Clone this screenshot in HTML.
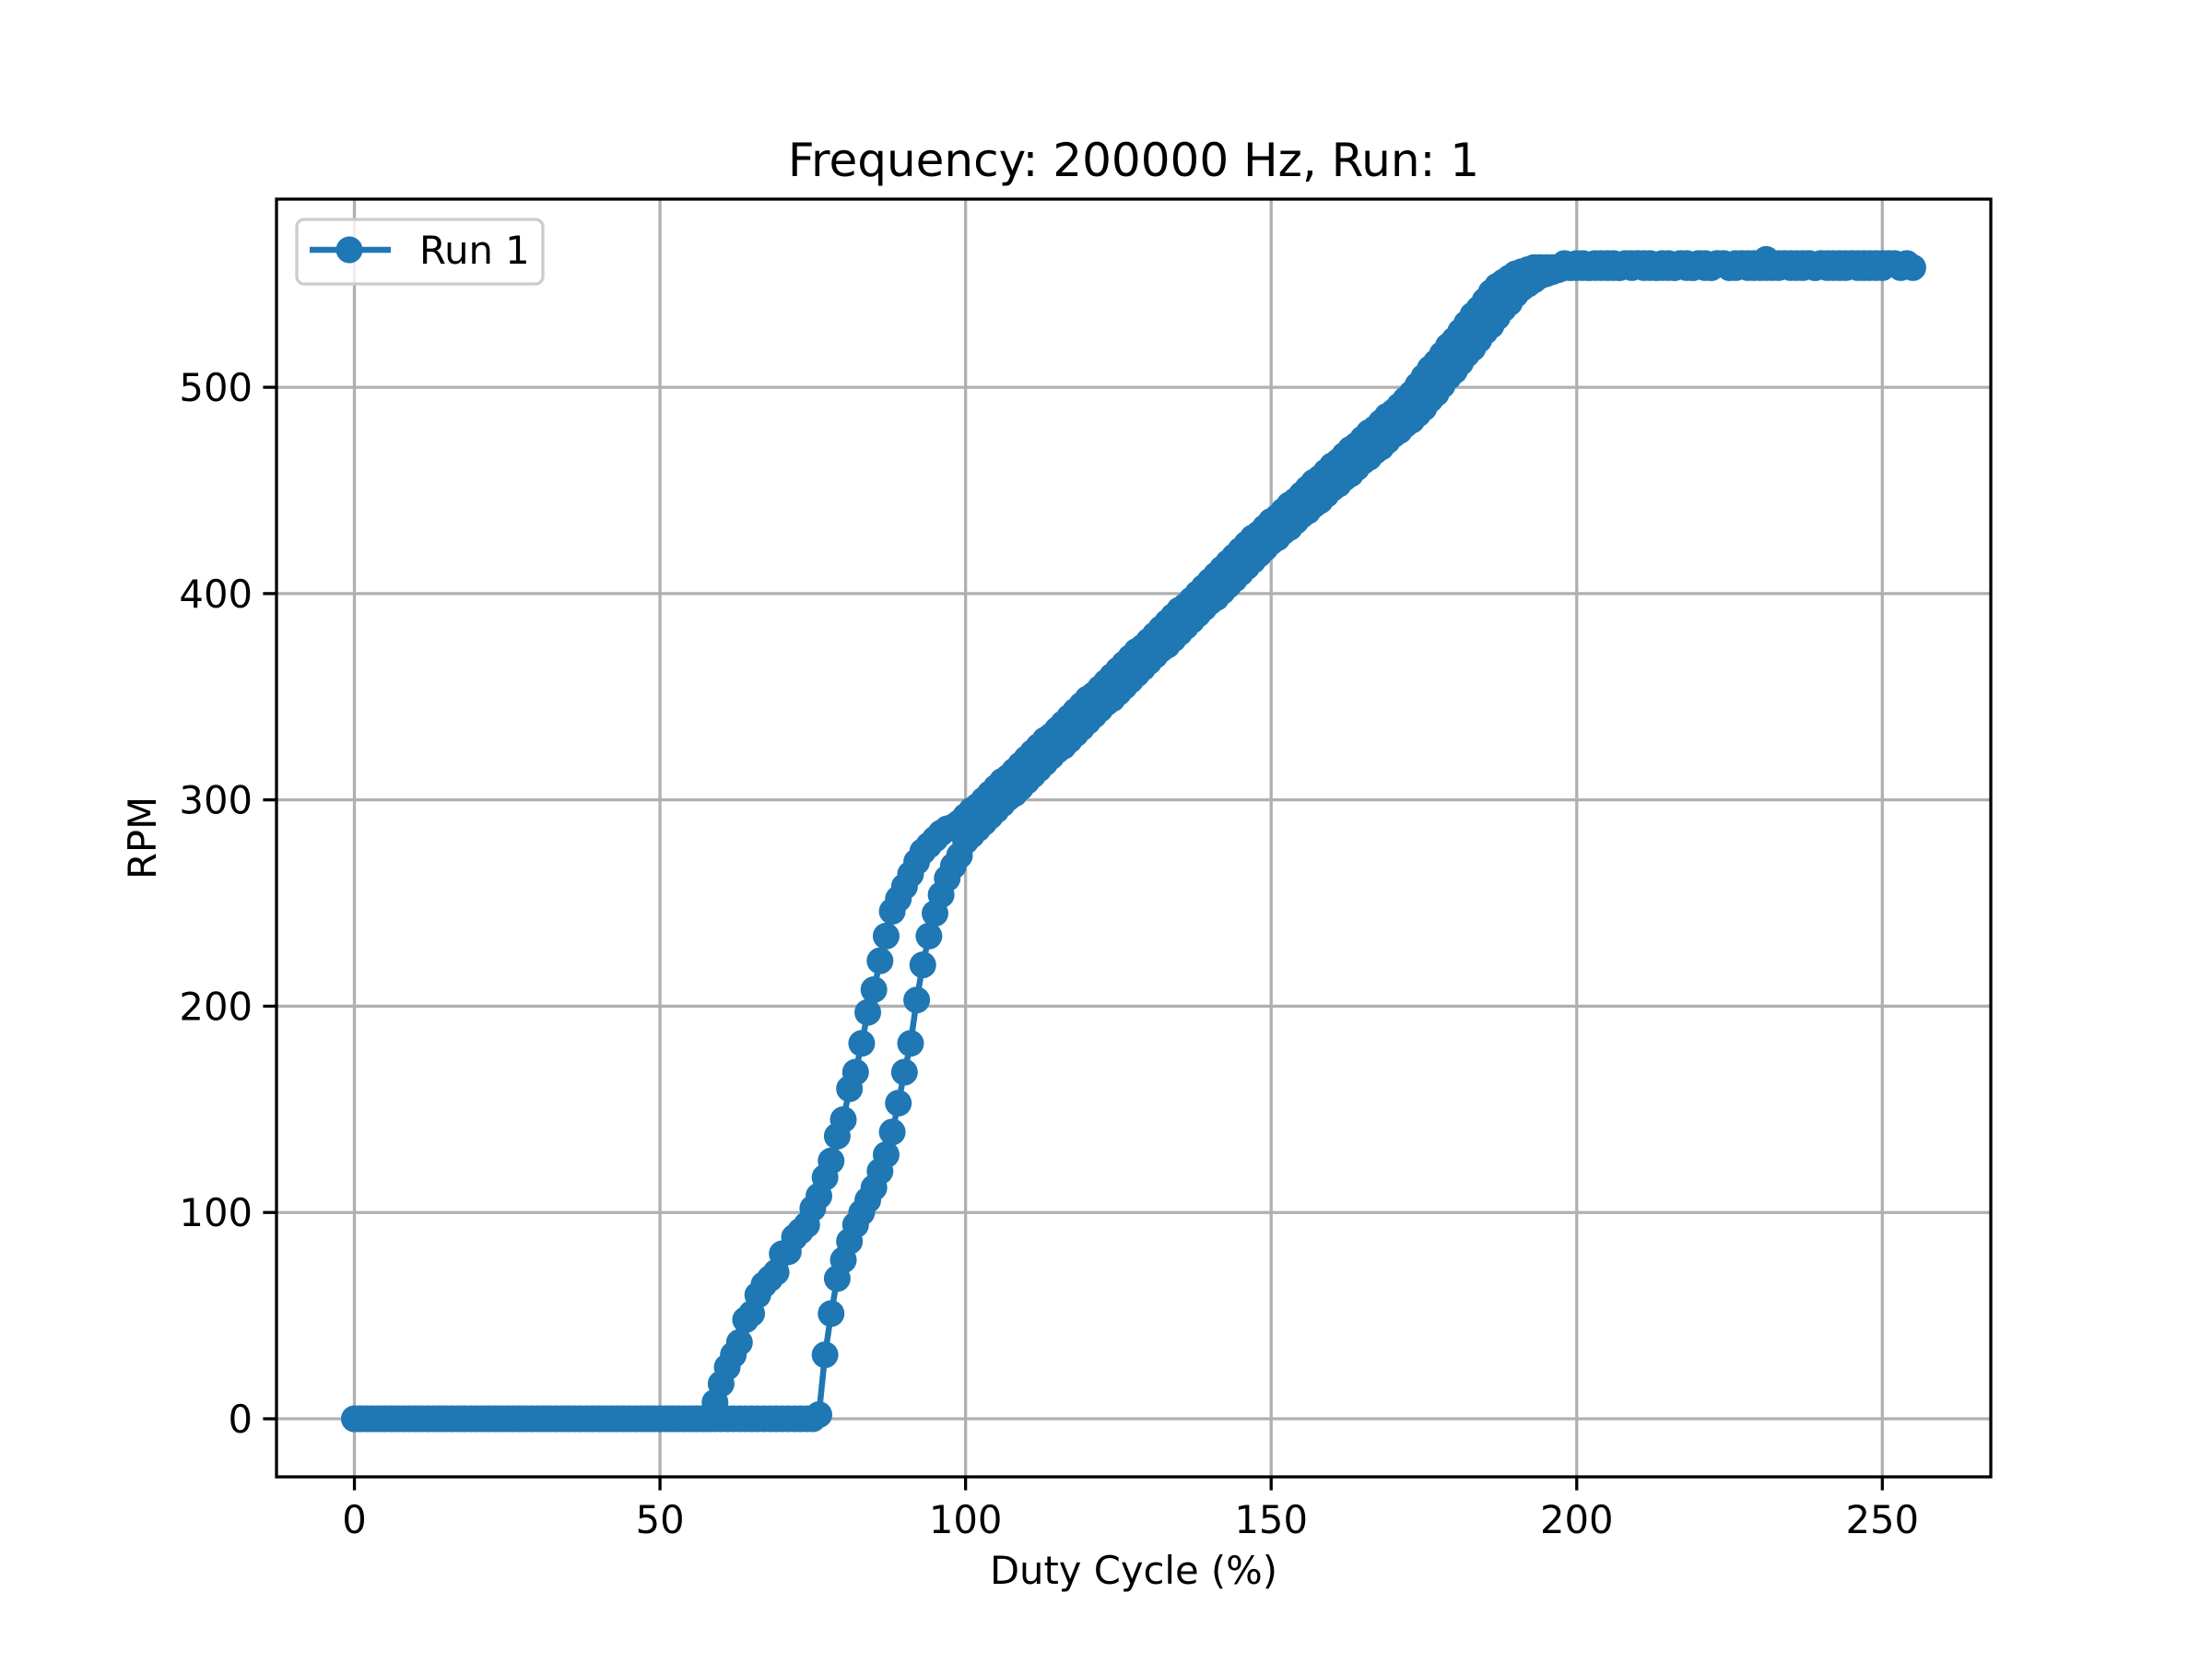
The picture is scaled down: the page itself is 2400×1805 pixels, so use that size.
<!DOCTYPE html>
<html><head><meta charset="utf-8"><style>
html,body{margin:0;padding:0;background:#fff;}
svg text{font-family:"DejaVu Sans","Liberation Sans",sans-serif;fill:#000;}
</style></head><body>
<svg id="chart" width="2400" height="1800" viewBox="0 0 2400 1800" xmlns="http://www.w3.org/2000/svg">
<rect width="2400" height="1800" fill="#fff"/>
<g id="grid"></g>
<g id="series"></g>
<rect x="300" y="216" width="1860" height="1386" fill="none" stroke="#000" stroke-width="3.3"/>
<g id="ticks"></g>
<text x="1230" y="191" font-size="50" text-anchor="middle">Frequency: 200000 Hz, Run: 1</text>
<text x="1230" y="1718" font-size="41.7" text-anchor="middle">Duty Cycle (%)</text>
<text transform="translate(169,909) rotate(-90)" font-size="41.7" text-anchor="middle">RPM</text>
<g>
<rect x="322" y="238" width="267" height="70" rx="8" fill="#fff" fill-opacity="0.8" stroke="#ccc" stroke-width="3.3"/>
<line x1="336" y1="271" x2="424" y2="271" stroke="#1f77b4" stroke-width="6.5"/>
<circle cx="379" cy="271" r="14.5" fill="#1f77b4"/>
<text x="455" y="286" font-size="41.7">Run 1</text>
</g>
</svg>
<script>
const xTicks=[0,50,100,150,200,250];
const yTicks=[0,100,200,300,400,500];
// up sweep: duty 0..255 ascending
const upRpm=[0,0,0,0,0,0,0,0,0,0,0,0,0,0,0,0,0,0,0,0,0,0,0,0,0,0,0,0,0,0,0,0,0,0,0,0,0,0,0,0,0,0,0,0,0,0,0,0,0,0,0,0,0,0,0,0,0,0,0,0,0,0,0,0,0,0,0,0,0,0,0,0,0,0,0,0,
2,31,51,68,77,86,94,100,106,112,120,128,139,153,168,182,203,220,234,245,254,262,268,273,
280,283,286,289,292,295,298,301,303,306,309,312,315,318,321,324,326,329,332,335,338,341,344,347,349,352,355,358,361,364,367,370,373,375,378,381,384,387,390,393,396,398,401,404,407,410,413,416,419,422,425,427,430,432,435,438,440,443,445,448,451,453,456,458,461,464,466,469,471,474,477,479,482,484,487,490,494,497,501,505,508,512,516,519,523,527,530,534,538,541,545,548,550,552,554,555,556,557,558,558,
558,560,558,558,560,558,560,558,560,560,560,558,560,558,558,560,558,560,560,558,560,560,558,560,560,558,560,560,560,558,560,562,558,560,560,558,560,560,560,558,560,560,560,558,560,560,560,560,558,560,560,560,560,558,560,558];
// down sweep values indexed by duty ascending (plotted 255 -> 0)
const downRpm=[0,0,0,0,0,0,0,0,0,0,0,0,0,0,0,0,0,0,0,0,0,0,0,0,0,0,0,0,0,0,0,0,0,0,0,0,0,0,0,0,0,0,0,0,0,0,0,0,0,0,0,0,0,0,0,0,0,0,0,
8,17,25,31,37,48,51,60,65,68,71,80,81,88,91,94,102,108,117,125,137,145,160,168,182,197,208,222,234,246,252,258,264,270,275,278,281,284,286,287,289,
292,295,297,300,303,306,309,311,314,317,320,323,326,329,331,334,337,340,343,346,349,351,354,357,360,363,366,369,372,374,377,380,383,386,389,392,394,397,400,403,406,409,412,415,418,421,424,427,429,432,435,437,440,443,445,448,451,454,456,459,462,464,467,470,472,475,478,480,483,486,488,491,494,497,501,505,509,512,516,520,523,527,531,535,538,542,546,549,551,553,555,556,557,558,558,558,
558,558,560,558,560,558,558,560,558,560,558,558,560,558,560,560,558,558,560,558,558,560,558,558,560,558,558,560,560,558,558,560,558,560,558,558,560,558,560,560,558,558,560,558,560,558,558,560,558,560,558,558,560,558,558,560];
const NS='http://www.w3.org/2000/svg';
const L=300,R=2160,T=216,B=1602,XMIN=-12.75,XMAX=267.75,YMIN=-28.15,YMAX=591.2;
function sx(v){return L+(v-XMIN)/(XMAX-XMIN)*(R-L);}
function sy(v){return B-(v-YMIN)/(YMAX-YMIN)*(B-T);}
function mk(tag,attrs,parent){const e=document.createElementNS(NS,tag);for(const k in attrs)e.setAttribute(k,attrs[k]);parent.appendChild(e);return e;}
const grid=document.getElementById('grid'),ticks=document.getElementById('ticks'),series=document.getElementById('series');
xTicks.forEach(t=>{const x=sx(t);
 const g=mk('line',{x1:x,x2:x,y1:T,y2:B,stroke:'#b0b0b0','stroke-width':3.3},grid);
 
 
 const tk=mk('line',{x1:x,x2:x,y1:B,y2:B+14.6,stroke:'#000','stroke-width':3.3},ticks);
 
 
 const tx=mk('text',{x:x,y:B+61,'font-size':41.7,'text-anchor':'middle'},ticks);tx.textContent=t;
 
 
});
yTicks.forEach(t=>{const y=sy(t);
 const g=mk('line',{x1:L,x2:R,y1:y,y2:y,stroke:'#b0b0b0','stroke-width':3.3},grid);
 
 
 const tk=mk('line',{x1:L-14.6,x2:L,y1:y,y2:y,stroke:'#000','stroke-width':3.3},ticks);
 
 
 const tx=mk('text',{x:L-26,y:y+15,'font-size':41.7,'text-anchor':'end'},ticks);tx.textContent=t;
 
 
});
const pts=[];
upRpm.forEach((v,i)=>pts.push([i,v]));
for(let i=downRpm.length-1;i>=0;i--)pts.push([i,downRpm[i]]);
const d=pts.map((p,i)=>(i?'L':'M')+sx(p[0]).toFixed(1)+' '+sy(p[1]).toFixed(1)).join(' ');
const line=mk('path',{d:d,fill:'none',stroke:'#1f77b4','stroke-width':6.5,'stroke-linejoin':'round'},series);


pts.forEach(p=>{const c=mk('circle',{cx:sx(p[0]),cy:sy(p[1]),r:14.5,fill:'#1f77b4'},series);
 
 
});
</script>
</body></html>
